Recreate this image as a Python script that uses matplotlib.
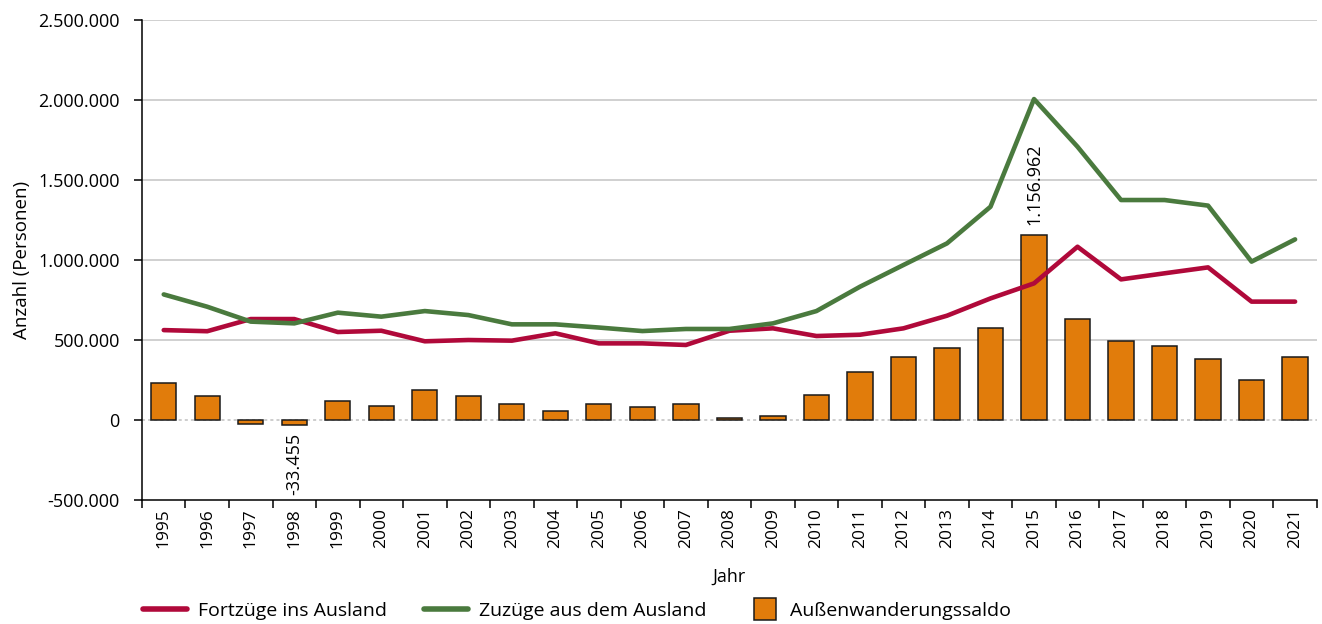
import matplotlib.pyplot as plt
from matplotlib.ticker import FuncFormatter, MultipleLocator
from matplotlib.lines import Line2D
import numpy as np

plt.rcParams['font.family'] = ['Open Sans', 'DejaVu Sans']

jahre = [str(j) for j in range(1995, 2022)]

# Fortzüge ins Ausland
fortzuege = [562000, 555000, 631000, 631000, 550000, 558000, 492000, 500000, 496000, 542000,
             479000, 479000, 469000, 558000, 573000, 525000, 533000, 573000, 652000, 760000,
             854000, 1083000, 879000, 917000, 954000, 740000, 740000]

# Zuzüge aus dem Ausland
zuzuege = [785000, 708000, 615000, 604000, 671000, 646000, 681000, 656000, 598000, 598000,
           578000, 556000, 569000, 569000, 604000, 681000, 833000, 969000, 1104000, 1333000,
           2006000, 1708000, 1375000, 1375000, 1340000, 990000, 1129000]

# Außenwanderungssaldo
saldo = [229000, 150000, -22000, -33455, 118000, 89000, 189000, 148000, 98000, 58000,
         98000, 79000, 98000, 10000, 27000, 158000, 300000, 392000, 452000, 573000,
         1156962, 633000, 492000, 462000, 381000, 250000, 392000]

beschriftet = {'1998': 'unten', '2015': 'oben'}

rot = '#B0093A'
gruen = '#4A7A3E'
orange = '#E17C0B'


def punkt_format(v, pos):
    return f"{v:,.0f}".replace(",", ".")


fig = plt.figure(figsize=(13.22, 6.24), dpi=100)
ax = fig.add_axes([0.1074, 0.1987, 0.8887, 0.7692])

x = np.arange(len(jahre))
ax.bar(x, saldo, width=0.58, color=orange, edgecolor='#1a1a1a', linewidth=1.1, zorder=3)
ax.plot(x, fortzuege, color=rot, lw=3.3, zorder=4, solid_capstyle='round')
ax.plot(x, zuzuege, color=gruen, lw=3.3, zorder=4, solid_capstyle='round')

for i, j in enumerate(jahre):
    if j in beschriftet:
        wert = saldo[i]
        if beschriftet[j] == 'oben':
            ax.text(i, wert + 60000, punkt_format(wert, None), rotation=90,
                    ha='center', va='bottom', fontsize=13, zorder=5)
        else:
            ax.text(i, wert - 45000, punkt_format(wert, None), rotation=90,
                    ha='center', va='top', fontsize=13, zorder=5)

ax.set_xlim(-0.5, len(jahre) - 0.5)
ax.set_ylim(-500000, 2500000)
ax.yaxis.set_major_locator(MultipleLocator(500000))
ax.yaxis.set_major_formatter(FuncFormatter(punkt_format))

ax.set_xticks(x)
ax.set_xticklabels(jahre, rotation=90, fontsize=12.5)
ax.tick_params(axis='x', length=0, pad=6)
ax.set_xticks(np.arange(-0.5, len(jahre)), minor=True)
ax.tick_params(axis='x', which='minor', length=6, width=1.1, direction='out')
ax.tick_params(axis='y', labelsize=13, length=6, width=1.1, direction='out', pad=10)

for y in range(500000, 2500001, 500000):
    ax.axhline(y, color='#c8c8c8', lw=1.2, zorder=1)
ax.axhline(0, color='#c0c0c0', lw=1.1, ls=(0, (2, 2)), zorder=1)

ax.spines['top'].set_visible(False)
ax.spines['right'].set_visible(False)
ax.spines['left'].set_linewidth(1.1)
ax.spines['bottom'].set_linewidth(1.1)

ax.set_xlabel('Jahr', fontsize=13, labelpad=14)
ax.set_ylabel('Anzahl (Personen)', fontsize=13.5, labelpad=5)

# Legende: drei Einträge einzeln platziert
eintraege = [
    (Line2D([0], [0], color=rot, lw=4, solid_capstyle='round'), 'Fortzüge ins Ausland', 143, 2.25, 0.6),
    (Line2D([0], [0], color=gruen, lw=4, solid_capstyle='round'), 'Zuzüge aus dem Ausland', 424, 2.25, 0.6),
    (Line2D([0], [0], marker='s', markersize=16, markerfacecolor=orange, markeredgecolor='#1a1a1a',
            markeredgewidth=1.1, linestyle='None'), 'Außenwanderungssaldo', 753, 1.2, 0.7),
]
for handle, label, xpix, hl, tp in eintraege:
    fig.legend([handle], [label], loc='center left', bbox_to_anchor=(xpix / 1322, 13 / 624),
               frameon=False, fontsize=14, handlelength=hl, handletextpad=tp,
               borderpad=0, borderaxespad=0)

fig.savefig('out.png', dpi=100)
